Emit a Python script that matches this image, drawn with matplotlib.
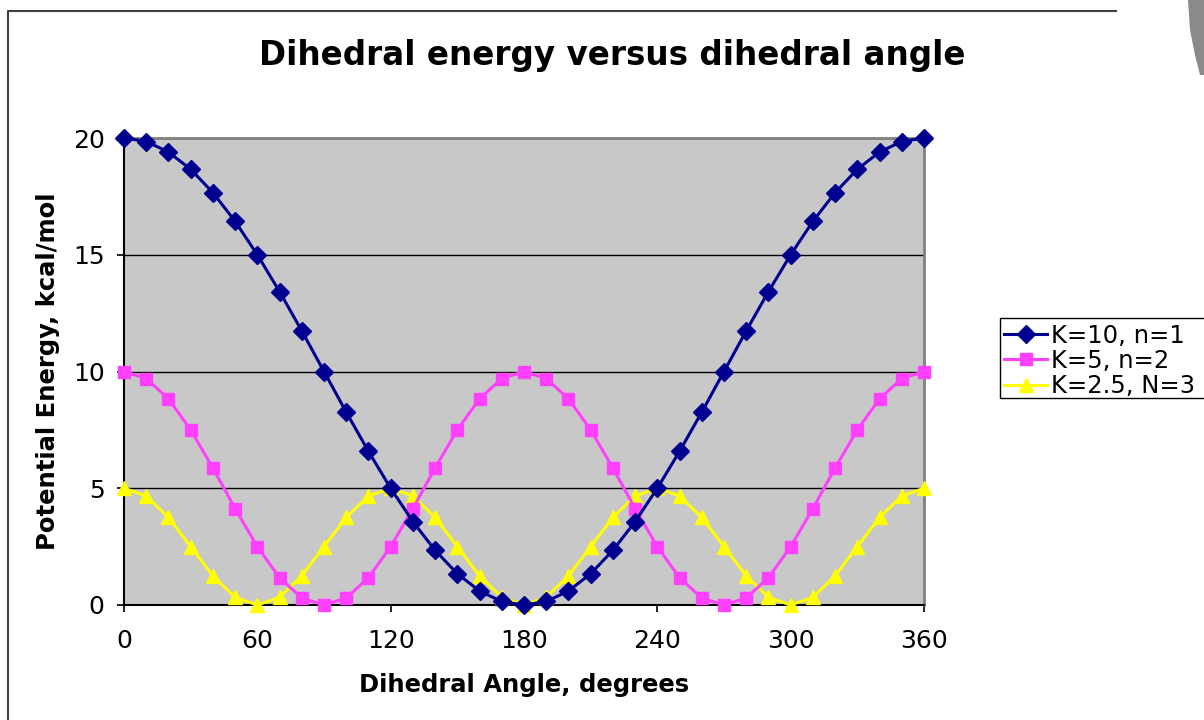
import matplotlib
matplotlib.use('Agg')
import matplotlib.pyplot as plt
from matplotlib.lines import Line2D
from matplotlib.patches import Polygon, Rectangle

angles = list(range(0, 361, 10))

# K=10, n=1
k10_n1 = [20, 19.85, 19.40, 18.66, 17.66, 16.43, 15, 13.42, 11.74, 10,
          8.26, 6.58, 5, 3.57, 2.34, 1.34, 0.60, 0.15, 0,
          0.15, 0.60, 1.34, 2.34, 3.57, 5, 6.58, 8.26, 10,
          11.74, 13.42, 15, 16.43, 17.66, 18.66, 19.40, 19.85, 20]
# K=5, n=2
k5_n2 = [10, 9.70, 8.83, 7.5, 5.87, 4.13, 2.5, 1.17, 0.30, 0,
         0.30, 1.17, 2.5, 4.13, 5.87, 7.5, 8.83, 9.70, 10,
         9.70, 8.83, 7.5, 5.87, 4.13, 2.5, 1.17, 0.30, 0,
         0.30, 1.17, 2.5, 4.13, 5.87, 7.5, 8.83, 9.70, 10]
# K=2.5, N=3
k25_n3 = [5, 4.67, 3.75, 2.5, 1.25, 0.33, 0, 0.33, 1.25, 2.5, 3.75, 4.67, 5,
          4.67, 3.75, 2.5, 1.25, 0.33, 0, 0.33, 1.25, 2.5, 3.75, 4.67, 5,
          4.67, 3.75, 2.5, 1.25, 0.33, 0, 0.33, 1.25, 2.5, 3.75, 4.67, 5]

labels = ['K=10, n=1', 'K=5, n=2', 'K=2.5, N=3']
x_ticks = [0, 60, 120, 180, 240, 300, 360]
y_ticks = [0, 5, 10, 15, 20]

fig = plt.figure(figsize=(12.04, 7.2), dpi=100)
ax = fig.add_axes([124 / 1204, 115 / 720, 800 / 1204, 467 / 720])
ax.set_facecolor('#C8C8C8')

ax.plot(angles, k10_n1, color='#000090', lw=2.2, marker='D', ms=9,
        clip_on=False, zorder=5, label=labels[0])
ax.plot(angles, k5_n2, color='#FF40FF', lw=2.2, marker='s', ms=9,
        clip_on=False, zorder=4, label=labels[1])
ax.plot(angles, k25_n3, color='#FFFF00', lw=2.2, marker='^', ms=10,
        clip_on=False, zorder=3, label=labels[2])

ax.set_xlim(0, 360)
ax.set_ylim(0, 20)
ax.set_xticks(x_ticks)
ax.set_yticks(y_ticks)
ax.tick_params(labelsize=18, length=5, width=1.2)
ax.tick_params(axis='x', pad=12)
ax.tick_params(axis='y', pad=9)
ax.yaxis.grid(True, color='black', lw=1)
ax.set_axisbelow(True)
for s in ['top', 'right']:
    ax.spines[s].set_color('#808080')
    ax.spines[s].set_linewidth(2)
for s in ['left', 'bottom']:
    ax.spines[s].set_color('black')
    ax.spines[s].set_linewidth(1.5)

ax.set_xlabel('Dihedral Angle, degrees', fontsize=17.5, fontweight='bold', labelpad=15)
ax.set_ylabel('Potential Energy, kcal/mol', fontsize=17.5, fontweight='bold', labelpad=9)
fig.text(612 / 1204, 1 - 55 / 720, 'Dihedral energy versus dihedral angle',
         ha='center', va='center', fontsize=23.5, fontweight='bold')

# legend; its box runs off the right edge of the picture
leg = fig.legend(loc='upper left', bbox_to_anchor=(1000 / 1204, 1 - 320 / 720),
                 fontsize=17.5, frameon=False, handlelength=1.8,
                 borderpad=0.15, labelspacing=0.05, handletextpad=0.15,
                 borderaxespad=0)
fig.patches.append(Rectangle((1000 / 1204, 1 - 398 / 720), 220 / 1204, 80 / 720,
                             transform=fig.transFigure, fill=False,
                             edgecolor='black', lw=1))

# chart area border (left and top only visible) and corner shadow
fig.lines.append(Line2D([8 / 1204, 8 / 1204, 1116 / 1204],
                        [0, 1 - 11 / 720, 1 - 11 / 720],
                        transform=fig.transFigure, color='#404040', lw=1.5))
fig.patches.append(Polygon([(1188 / 1204, 1), (1, 1), (1, 1 - 75 / 720),
                            (1200 / 1204, 1 - 75 / 720), (1195 / 1204, 1 - 55 / 720),
                            (1190 / 1204, 1 - 30 / 720)],
                           closed=True, transform=fig.transFigure,
                           facecolor='#8a8a8a', edgecolor='none'))

plt.savefig('out.png', dpi=100)
plt.close()
